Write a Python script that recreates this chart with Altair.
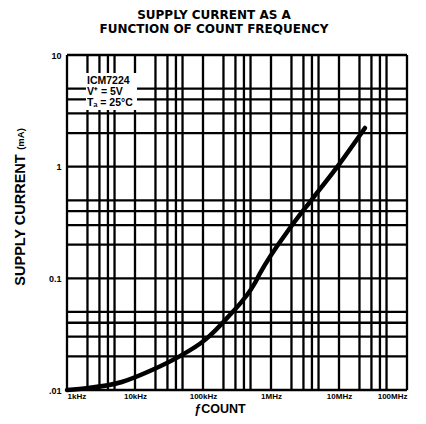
import altair as alt
import pandas as pd

# Curve readings (count frequency in Hz, supply current in mA)
freq_hz = [1000, 2040, 6400, 17800, 43000, 107000, 233000, 580000, 690000, 1900000, 4150000, 9350000, 24100000]
current_ma = [0.0100, 0.0104, 0.0118, 0.0151, 0.0197, 0.0281, 0.0451, 0.0908, 0.111, 0.282, 0.524, 0.99, 2.22]

# Grid lines drawn on the chart
grid_x = [1e3, 2e3, 3e3, 4e3, 5e3, 1e4, 2e4, 3e4, 4e4, 5e4, 1e5, 2e5, 3e5, 4e5, 5e5,
          1e6, 2e6, 3e6, 4e6, 5e6, 1e7, 2e7, 3e7, 4e7, 5e7, 1e8]
grid_y = [0.01, 0.02, 0.03, 0.04, 0.05, 0.1, 0.2, 0.3, 0.4, 0.5, 1, 2, 3, 4, 5, 10]

# Tick labels
x_ticks = [1e3, 1e4, 1e5, 1e6, 1e7, 1e8]
x_labels = ["1kHz", "10kHz", "100kHz", "1MHz", "10MHz", "100MHz"]
y_ticks = [0.01, 0.1, 1, 10]
y_labels = [".01", "0.1", "1", "10"]

note_text = "ICM7224\nV⁺ = 5V\nTₐ = 25°C"

FONT = "Liberation Sans"
TFONT = "DejaVu Sans"

def expr_map(vals, labels):
    parts = []
    for v, l in zip(vals, labels):
        parts.append(f"abs(datum.value - {v}) < {v}*1e-6 ? '{l}'")
    return " : ".join(parts) + " : ''"

xscale = alt.Scale(type="log", domain=[1e3, 1e8], nice=False)
yscale = alt.Scale(type="log", domain=[0.01, 10], nice=False)

xaxis = alt.Axis(values=x_ticks, labelExpr=expr_map(x_ticks, x_labels), ticks=False,
                 domain=False, grid=False, labelFont=FONT, labelFontWeight="bold",
                 labelFontSize=8, labelColor="black", labelPadding=2, title=None)
yaxis = alt.Axis(values=y_ticks, labelExpr=expr_map(y_ticks, y_labels), ticks=False,
                 domain=False, grid=False, labelFont=FONT, labelFontWeight="bold",
                 labelFontSize=9, labelColor="black", labelPadding=6, title=None)

curve_df = pd.DataFrame({"f": freq_hz, "i": current_ma})
gx_df = pd.DataFrame({"f": grid_x})
gy_df = pd.DataFrame({"i": grid_y})
one = pd.DataFrame({"a": [0]})

vgrid = alt.Chart(gx_df).mark_rule(color="black", strokeWidth=2.3).encode(
    x=alt.X("f:Q", scale=xscale, axis=xaxis))
hgrid = alt.Chart(gy_df).mark_rule(color="black", strokeWidth=2.3).encode(
    y=alt.Y("i:Q", scale=yscale, axis=yaxis))

box = alt.Chart(one).mark_rect(color="white").encode(
    x=alt.value(19), x2=alt.value(70), y=alt.value(18), y2=alt.value(55))
note = alt.Chart(one).mark_text(
    align="left", baseline="top", font=FONT, fontWeight="bold", fontSize=10.5,
    lineHeight=11, lineBreak="\n", color="black").encode(
    x=alt.value(20), y=alt.value(21), text=alt.value(note_text))

line = alt.Chart(curve_df).mark_line(color="black", strokeWidth=4.5,
                                     interpolate="monotone", strokeCap="round").encode(
    x=alt.X("f:Q", scale=xscale, axis=xaxis),
    y=alt.Y("i:Q", scale=yscale, axis=yaxis))

ytitle1 = alt.Chart(one).mark_text(angle=270, font=FONT, fontWeight="bold", fontSize=14.5,
                                   color="black", baseline="middle", align="center").encode(
    x=alt.value(-46), y=alt.value(165), text=alt.value("SUPPLY CURRENT"))
ytitle2 = alt.Chart(one).mark_text(angle=270, font=FONT, fontWeight="bold", fontSize=9.5,
                                   color="black", baseline="middle", align="center").encode(
    x=alt.value(-46), y=alt.value(84), text=alt.value("(mA)"))

xtitle = alt.Chart(one).mark_text(font=FONT, fontWeight="bold", fontSize=12.5,
                                  color="black", baseline="alphabetic", align="center").encode(
    x=alt.value(153), y=alt.value(358), text=alt.value("ƒCOUNT"))

chart = alt.layer(vgrid, hgrid, box, note, line, ytitle1, ytitle2, xtitle).properties(
    width=340, height=335,
    title=alt.TitleParams(["SUPPLY CURRENT AS A", "FUNCTION OF COUNT FREQUENCY"],
                          font=TFONT, fontSize=12, fontWeight="bold", color="black",
                          lineHeight=14, anchor="middle", dx=-23, offset=15),
    autosize=alt.AutoSizeParams(type="none"),
    padding={"left": 59, "top": 47, "right": 11, "bottom": 26},
).configure_view(stroke="black", strokeWidth=2.5).configure(background="white")

chart.save("out.html", embed_options={"renderer": "svg", "actions": False})
